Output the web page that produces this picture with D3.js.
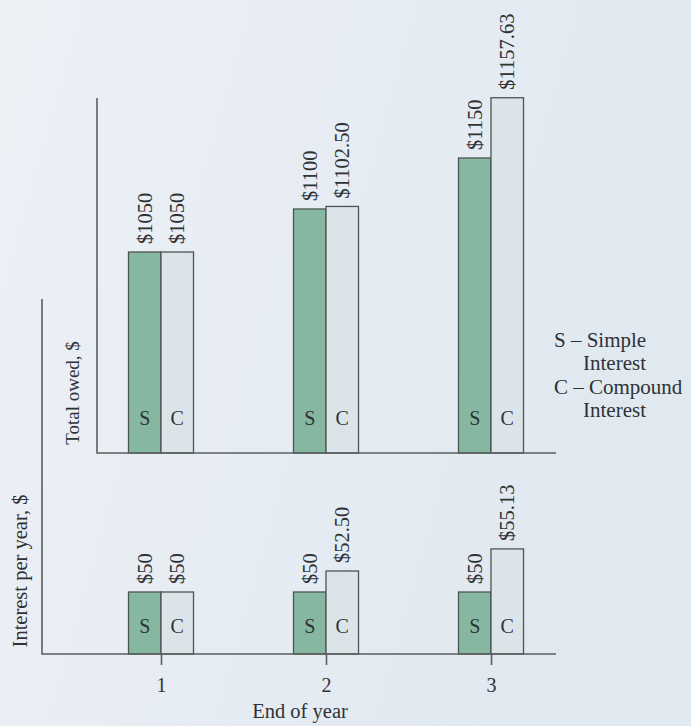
<!DOCTYPE html>
<html>
<head>
<meta charset="utf-8">
<script src="https://cdn.jsdelivr.net/npm/d3@7"></script>
<style>
  body { margin: 0; background: #e7edf3; }
  text { font-family: "Liberation Serif", "Times New Roman", serif; fill: #2e3236; }
</style>
</head>
<body>
<div id="wrapper"></div>
<script>
// data
const years = [1, 2, 3]
const simpleTotal = [1050, 1100, 1150]
const compoundTotal = [1050, 1102.50, 1157.63]
const simpleInterest = [50, 50, 50]
const compoundInterest = [50, 52.50, 55.13]
const legendLines = ["S \u2013 Simple", "Interest", "C \u2013 Compound", "Interest"]

const fmt = v => "$" + (Number.isInteger(v) ? v : v.toFixed(2))

const dimensions = {
    width: 691,
    height: 726,
    topBase: 453,
    topAxisTop: 98,
    topLeft: 97,
    botBase: 654,
    botAxisTop: 299,
    botLeft: 42,
    right: 556,
    barWidth: 32.5,
}

const wrapper = d3.select("#wrapper")
    .append("svg")
    .attr("width", dimensions.width)
    .attr("height", dimensions.height)

// faint page background
const defs = wrapper.append("defs")
const bg = defs.append("linearGradient").attr("id", "bg")
    .attr("x1", 0).attr("x2", 1).attr("y1", 0).attr("y2", 0.3)
bg.append("stop").attr("offset", "0%").attr("stop-color", "#edf1f6")
bg.append("stop").attr("offset", "100%").attr("stop-color", "#e0e8f0")
wrapper.append("rect")
    .attr("width", dimensions.width)
    .attr("height", dimensions.height)
    .attr("fill", "url(#bg)")

// scales
const xScale = d3.scalePoint()
    .domain(years)
    .range([161, 491])

// schematic (broken) value axes, as in the book figure
const yTop = d3.scaleLinear()
    .domain([1050, 1100, 1150, 1160])
    .range([252, 209, 158, 79])

const yBot = d3.scaleLinear()
    .domain([50, 55])
    .range([592, 550])

const sColor = "#86b7a1"
const cColor = "#dbe5e9"
const strokeColor = "#4d5552"

function drawPanel(g, sVals, cVals, yScale, base, keyOffset) {
    const rows = years.map((yr, i) => [
        {yr, v: sVals[i], key: "S", x: xScale(yr) - dimensions.barWidth, fill: sColor},
        {yr, v: cVals[i], key: "C", x: xScale(yr), fill: cColor},
    ]).flat()

    g.selectAll(".bar")
        .data(rows)
        .join("rect")
        .attr("class", "bar")
        .attr("x", d => d.x)
        .attr("width", dimensions.barWidth)
        .attr("y", d => yScale(d.v))
        .attr("height", d => base - yScale(d.v))
        .attr("fill", d => d.fill)
        .attr("stroke", strokeColor)
        .attr("stroke-width", 1.3)

    g.selectAll(".key")
        .data(rows)
        .join("text")
        .attr("class", "key")
        .attr("x", d => d.x + dimensions.barWidth / 2)
        .attr("y", base - keyOffset)
        .attr("text-anchor", "middle")
        .style("font-size", "20px")
        .text(d => d.key)

    g.selectAll(".value")
        .data(rows)
        .join("text")
        .attr("class", "value")
        .attr("transform", d => `translate(${d.x + dimensions.barWidth / 2},${yScale(d.v) - 8}) rotate(-90)`)
        .attr("dy", "0.35em")
        .style("font-size", "20.5px")
        .text(d => fmt(d.v))
}

const topG = wrapper.append("g")
drawPanel(topG, simpleTotal, compoundTotal, yTop, dimensions.topBase, 28)

const botG = wrapper.append("g")
drawPanel(botG, simpleInterest, compoundInterest, yBot, dimensions.botBase, 21)

// axes lines
const axisColor = "#5a605e"
wrapper.append("path")
    .attr("d", `M${dimensions.topLeft},${dimensions.topAxisTop}V${dimensions.topBase}H${dimensions.right}`)
    .attr("fill", "none")
    .attr("stroke", axisColor)
    .attr("stroke-width", 1.6)

wrapper.append("path")
    .attr("d", `M${dimensions.botLeft},${dimensions.botAxisTop}V${dimensions.botBase}H${dimensions.right}`)
    .attr("fill", "none")
    .attr("stroke", axisColor)
    .attr("stroke-width", 1.6)

const xAxisGenerator = d3.axisBottom()
    .scale(xScale)
    .tickSize(11)
    .tickPadding(13)

const xAxis = wrapper.append("g")
    .attr("transform", `translate(0,${dimensions.botBase})`)
    .call(xAxisGenerator)
xAxis.select(".domain").remove()
xAxis.selectAll(".tick line").attr("stroke", axisColor).attr("stroke-width", 1.6)
xAxis.selectAll(".tick text")
    .style("font-family", "Liberation Serif, serif")
    .style("font-size", "20px")
    .attr("fill", "#2e3236")

wrapper.append("text")
    .attr("x", 300)
    .attr("y", 718)
    .attr("text-anchor", "middle")
    .style("font-size", "20.5px")
    .text("End of year")

wrapper.append("text")
    .attr("transform", "translate(72,393) rotate(-90)")
    .attr("text-anchor", "middle")
    .attr("dy", "0.35em")
    .style("font-size", "19px")
    .text("Total owed, $")

wrapper.append("text")
    .attr("transform", "translate(20,571) rotate(-90)")
    .attr("text-anchor", "middle")
    .attr("dy", "0.35em")
    .style("font-size", "20.5px")
    .text("Interest per year, $")

// legend
const legendGroup = wrapper.append("g")
    .attr("transform", "translate(554,347)")
legendGroup.selectAll(".legend-line")
    .data(legendLines)
    .join("text")
    .attr("class", "legend-line")
    .attr("x", (d, i) => i % 2 ? 29 : 0)
    .attr("y", (d, i) => i * 23.3)
    .style("font-size", "21px")
    .text(d => d)
</script>
</body>
</html>
